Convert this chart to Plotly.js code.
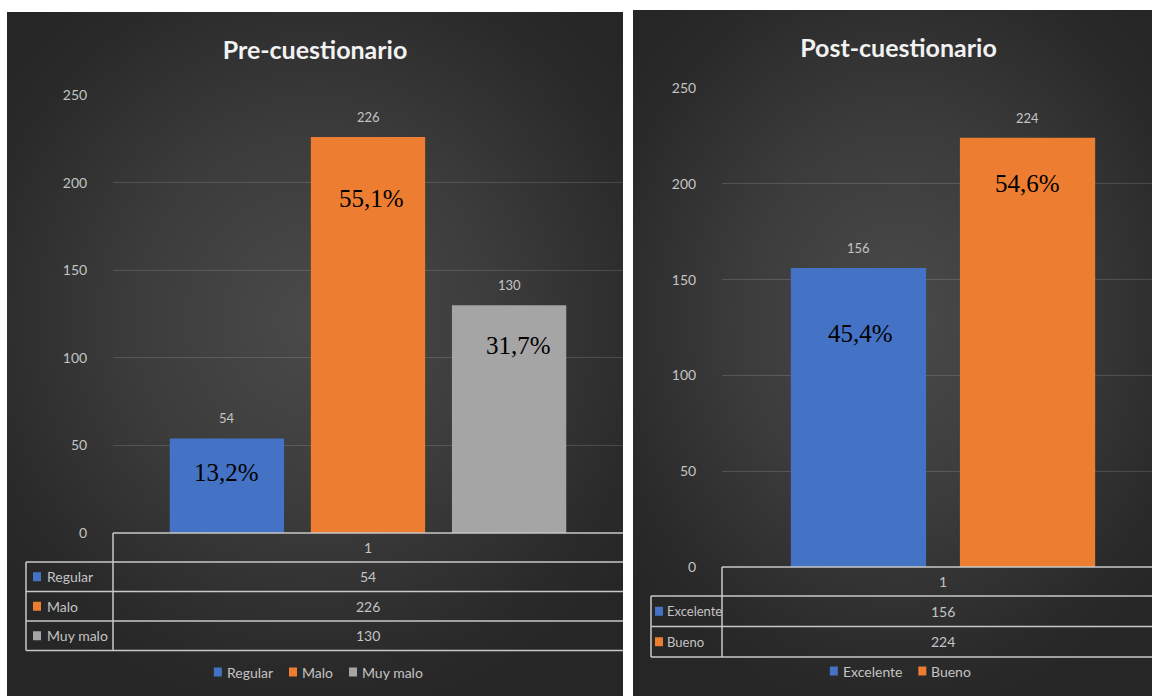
<!DOCTYPE html>
<html>
<head>
<meta charset="utf-8">
<script src="https://cdn.plot.ly/plotly-3.0.1.min.js"></script>
<style>
  html, body { margin: 0; padding: 0; background: #ffffff; width: 1152px; height: 696px; overflow: hidden; }
  .panel { position: absolute; overflow: hidden;
    background: radial-gradient(ellipse 65% 60% at 50% 45%, #4a4a4a 0%, #3c3c3c 45%, #2a2a2a 85%, #262626 100%); }
  #pre { left: 7px; top: 12px; width: 616px; height: 684px; }
  #post { left: 633px; top: 10px; width: 531px; height: 686px; }
</style>
</head>
<body>
<div id="pre" class="panel"></div>
<div id="post" class="panel"></div>
<script>
// ---------------- data ----------------
const categories = ['1'];
const yTickValues = [0, 50, 100, 150, 200, 250];

const preTitle = 'Pre-cuestionario';
const preSeries = ['Regular', 'Malo', 'Muy malo'];
const preValues = [54, 226, 130];
const prePercentLabels = ['13,2%', '55,1%', '31,7%'];

const postTitle = 'Post-cuestionario';
const postSeries = ['Excelente', 'Bueno'];
const postValues = [156, 224];
const postPercentLabels = ['45,4%', '54,6%'];

// ---------------- style ----------------
const BLUE = '#4472c4', ORANGE = '#ed7d31', GRAY = '#a5a5a5';
const TEXT = '#c4c4c4';
const BORDER = '#c8c8c8';
const FONT = 'Lato, "Open Sans", sans-serif';

const measureCtx = document.createElement('canvas').getContext('2d');
function textWidth(t, size) {
  measureCtx.font = size + 'px Lato, "Open Sans", sans-serif';
  return measureCtx.measureText(t).width;
}

function makeChart(id, c) {
  const n = c.series.length;
  const W = c.width, H = c.height;
  const pw = W - c.margin.l - c.margin.r;
  const ph = H - c.margin.t - c.margin.b;
  const px = v => v / pw;         // pixel offset from plot left -> paper x
  const py = v => -v / ph;        // pixel below axis -> paper y

  const traces = c.series.map((s, i) => ({
    type: 'bar',
    x: categories,
    y: [c.values[i]],
    name: s,
    marker: { color: c.colors[i], line: { width: 0 } },
    hoverinfo: 'skip'
  }));

  const slot = (1 - c.bargap) / n;
  const centers = c.series.map((s, i) => (i - (n - 1) / 2) * slot);

  const annotations = [];
  c.values.forEach((v, i) => {
    annotations.push({
      x: centers[i], y: v, xref: 'x', yref: 'y', yshift: 20,
      text: String(v), showarrow: false, yanchor: 'middle',
      font: { family: FONT, size: 13, color: TEXT }
    });
    annotations.push({
      x: centers[i], y: v, xref: 'x', yref: 'y',
      yshift: -c.pctOffset[i], xshift: c.pctXShift[i],
      text: c.pct[i], showarrow: false, yanchor: 'middle',
      font: { family: '"Liberation Serif", "Times New Roman", serif', size: 25, color: '#000000' }
    });
  });

  // table
  const shapes = [];
  const line = (x0, y0, x1, y1) => shapes.push({
    type: 'line', xref: 'paper', yref: 'paper', x0, y0, x1, y1,
    line: { color: BORDER, width: 1.5 }, layer: 'above'
  });
  const legX = px(-c.legColW);
  const hh = c.headerH, rh = c.rowH;
  const bottom = hh + rh * n;
  line(0, 0, 1.02, 0);
  line(legX, py(hh), 1.02, py(hh));
  for (let k = 1; k <= n; k++) line(legX, py(hh + rh * k), 1.02, py(hh + rh * k));
  line(0, 0, 0, py(bottom));
  line(legX, py(hh), legX, py(bottom));

  annotations.push({
    xref: 'paper', yref: 'paper', x: 0.5, y: py(hh / 2), text: categories[0],
    showarrow: false, yanchor: 'middle', font: { family: FONT, size: 14, color: TEXT }
  });
  c.series.forEach((s, i) => {
    const yc = hh + rh * (i + 0.5);
    annotations.push({
      xref: 'paper', yref: 'paper', x: 0.5, y: py(yc), text: String(c.values[i]),
      showarrow: false, yanchor: 'middle', font: { family: FONT, size: 14, color: TEXT }
    });
    annotations.push({
      xref: 'paper', yref: 'paper', x: px(-c.legColW + c.textPad), y: py(yc), text: s,
      showarrow: false, xanchor: 'left', yanchor: 'middle',
      font: { family: FONT, size: c.rowLabelSize, color: TEXT }
    });
    shapes.push({
      type: 'rect', xref: 'paper', yref: 'paper',
      x0: px(-c.legColW + c.sqPad), x1: px(-c.legColW + c.sqPad + 8),
      y0: py(yc - 4.5), y1: py(yc + 4.5),
      fillcolor: c.colors[i], line: { width: 0 }, layer: 'above'
    });
  });

  // compact legend (square + name), centred in the panel
  const LS = 14, SQ = 8, GAP = 4, ITEMGAP = 17;
  const widths = c.series.map(s => SQ + GAP + textWidth(s, LS));
  const total = widths.reduce((a, b) => a + b, 0) + ITEMGAP * (n - 1);
  let xPos = c.legendX - total / 2 - c.margin.l;   // pixels from plot left
  const legYc = c.legendY - c.margin.t - ph;       // pixels below axis
  c.series.forEach((s, i) => {
    shapes.push({
      type: 'rect', xref: 'paper', yref: 'paper',
      x0: px(xPos), x1: px(xPos + SQ), y0: py(legYc - 4.5), y1: py(legYc + 4.5),
      fillcolor: c.colors[i], line: { width: 0 }, layer: 'above'
    });
    annotations.push({
      xref: 'paper', yref: 'paper', x: px(xPos + SQ + GAP), y: py(legYc), text: s,
      showarrow: false, xanchor: 'left', yanchor: 'middle', xshift: -1,
      font: { family: FONT, size: LS, color: TEXT }
    });
    xPos += widths[i] + ITEMGAP;
  });

  const layout = {
    width: W, height: H,
    margin: c.margin,
    paper_bgcolor: 'rgba(0,0,0,0)',
    plot_bgcolor: 'rgba(0,0,0,0)',
    barmode: 'group',
    bargap: c.bargap,
    bargroupgap: c.bargroupgap,
    title: {
      text: c.title, xref: 'container', x: 0.5, xanchor: 'center',
      yref: 'container', y: 1 - c.titleY / H, yanchor: 'middle',
      font: { family: FONT, size: 25, color: '#f2f2f2', weight: 'bold' }
    },
    xaxis: { type: 'category', showticklabels: false, showgrid: false, zeroline: false, showline: false, ticks: '' },
    yaxis: {
      range: [0, 250], tickvals: yTickValues, ticktext: yTickValues.map(String),
      showgrid: true, gridcolor: 'rgba(255,255,255,0.14)', gridwidth: 1,
      zeroline: false, showline: false,
      ticks: 'outside', ticklen: c.tickGap, tickcolor: 'rgba(0,0,0,0)',
      tickfont: { family: FONT, size: 14, color: TEXT }
    },
    showlegend: false,
    annotations, shapes
  };
  Plotly.newPlot(id, traces, layout, { displayModeBar: false, staticPlot: true });
}

makeChart('pre', {
  title: preTitle, series: preSeries, values: preValues, pct: prePercentLabels,
  colors: [BLUE, ORANGE, GRAY],
  width: 616, height: 684,
  margin: { l: 106, r: 0, t: 83, b: 163 },
  bargap: 0.17, bargroupgap: 0.19,
  pctOffset: [34, 61, 40], pctXShift: [0, 3, 9],
  headerH: 29, rowH: 29.5, legColW: 87, sqPad: 7, textPad: 19, rowLabelSize: 14,
  titleY: 38, legendX: 311, legendY: 660, tickGap: 22
});

makeChart('post', {
  title: postTitle, series: postSeries, values: postValues, pct: postPercentLabels,
  colors: [BLUE, ORANGE],
  width: 531, height: 686,
  margin: { l: 89, r: 0, t: 78, b: 129 },
  bargap: 0.235, bargroupgap: 0.2,
  pctOffset: [65, 46], pctXShift: [2, 0],
  headerH: 29, rowH: 30.5, legColW: 71, sqPad: 4, textPad: 14, rowLabelSize: 13,
  titleY: 38, legendX: 267, legendY: 661, tickGap: 22
});
</script>
</body>
</html>
